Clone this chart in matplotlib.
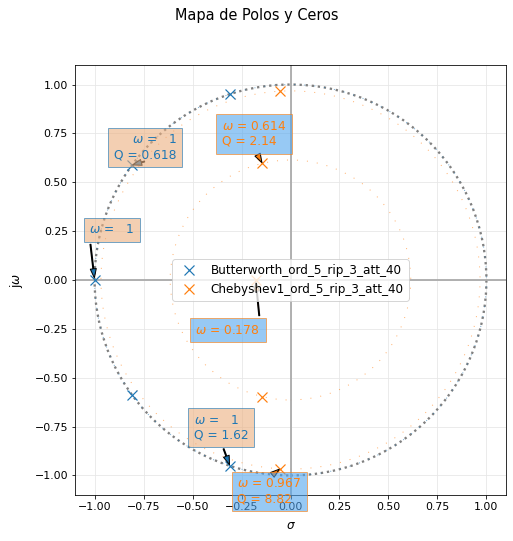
import numpy as np
import matplotlib
matplotlib.use("Agg")
import matplotlib.pyplot as plt
from matplotlib import patches

butter_re = [-0.30902, -0.80902, -1.0, -0.80902, -0.30902]
butter_im = [0.95106, 0.58779, 0.0, -0.58779, -0.95106]
cheby_re = [-0.05486, -0.14362, -0.17752, -0.14362, -0.05486]
cheby_im = [0.96592, 0.59697, 0.0, -0.59697, -0.96592]

nombres = ["Butterworth_ord_5_rip_3_att_40", "Chebyshev1_ord_5_rip_3_att_40"]

# polos anotados: indice del polo, posicion del texto, alineacion
butter_notas = [(2, (-1.026, 0.258), "left"),
                (1, (-0.582, 0.679), "right"),
                (4, (-0.495, -0.755), "left")]
cheby_notas = [(1, (-0.352, 0.747), "left"),
               (2, (-0.485, -0.258), "left"),
               (4, (-0.271, -1.080), "left")]

azul = "#1f77b4"
naranja = "#ff7f0e"
caja_azul = "#52a5ee"
caja_naranja = "#ebaf7f"

fig = plt.figure(figsize=(513 / 72, 541 / 72), dpi=72)
ax = fig.add_axes([75 / 513, 46 / 541, 431 / 513, 430 / 541])
fig.suptitle("Mapa de Polos y Ceros", fontsize=14.5, y=0.986)

# circulo unitario
ax.add_patch(patches.Circle((0, 0), radius=1, fill=False, color="gray", ls=":", lw=2.3, zorder=1))


def dibujar(re, im, color, color_caja, nombre, notas):
    polos = np.array(re) + 1j * np.array(im)
    ax.plot(polos.real, polos.imag, "x", color=color, markersize=10, mew=1.2, label=nombre, zorder=3)
    # circulos de radio omega para los pares complejos
    for w in np.unique(np.round(np.abs(polos[polos.imag > 0]), 4)):
        ax.add_patch(patches.Circle((0, 0), radius=w, fill=False, color=color, ls=(0, (1, 9)),
                                    lw=1, alpha=0.6, zorder=1))
    for i, pos, ha in notas:
        p = polos[i]
        w = np.abs(p)
        if p.imag == 0:
            txt = "$\\omega$ = {:3.3g}".format(w)
        else:
            q = w / (2 * np.abs(p.real))
            txt = "$\\omega$ = {:3.3g}\nQ = {:3.3g}".format(w, q)
        ax.annotate(txt, xy=(p.real, p.imag), xytext=pos, ha=ha, va="center", color=color,
                    fontsize=12.3, annotation_clip=False,
                    bbox=dict(fc=color_caja, ec=color, alpha=0.6, lw=1, pad=5.5),
                    arrowprops=dict(facecolor=color, shrink=0.05, width=1, headwidth=6, headlength=9),
                    zorder=4)


dibujar(butter_re, butter_im, azul, caja_naranja, nombres[0], butter_notas)
dibujar(cheby_re, cheby_im, naranja, caja_azul, nombres[1], cheby_notas)

ax.axhline(0, color="#aaaaaa", lw=1.8, zorder=1)
ax.axvline(0, color="#aaaaaa", lw=1.8, zorder=1)
ax.grid(True, color="0.9", lw=0.8)
ax.set_axisbelow(True)
ax.set_xlim(-1.1, 1.1)
ax.set_ylim(-1.1, 1.1)
ax.set_xticks(np.arange(-1, 1.01, 0.25))
ax.set_yticks(np.arange(-1, 1.01, 0.25))
ax.tick_params(labelsize=11)
ax.set_xlabel("$\\sigma$", fontsize=12, labelpad=7)
ax.set_ylabel("j$\\omega$", fontsize=12, labelpad=9)
ax.legend(loc="center", fontsize=12)

fig.savefig("out.png", dpi=72)
